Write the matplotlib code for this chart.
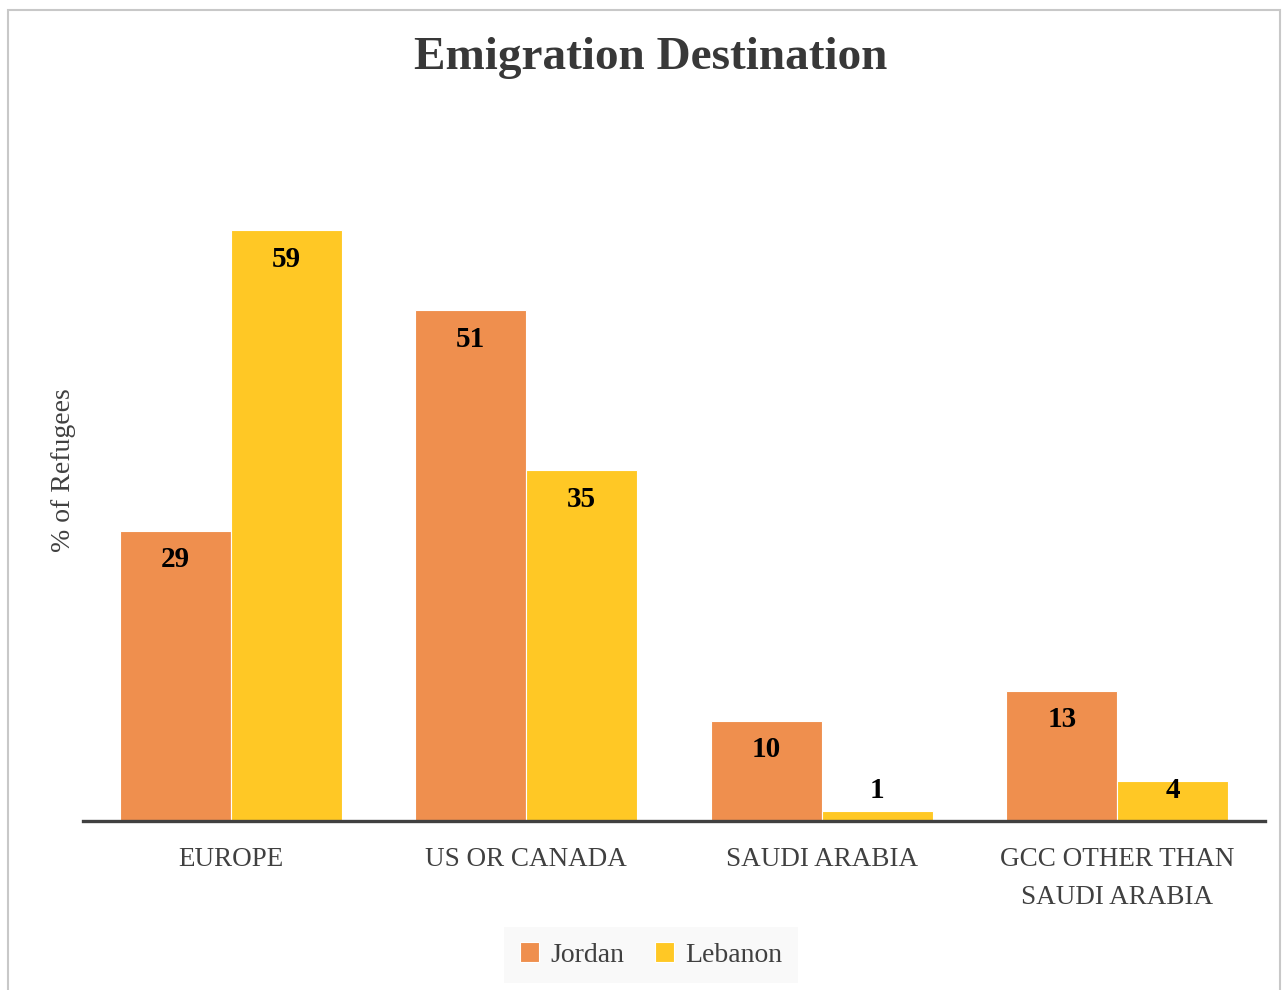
"""Emigration destination of refugees, Jordan vs Lebanon. Writes out.png."""

import matplotlib

matplotlib.use("Agg")
import matplotlib.pyplot as plt
import numpy as np
from matplotlib.patches import Rectangle

categories = ["EUROPE", "US OR CANADA", "SAUDI ARABIA", "GCC OTHER THAN\nSAUDI ARABIA"]
jordan = [29, 51, 10, 13]
lebanon = [59, 35, 1, 4]

ORANGE = "#EF8F4E"
YELLOW = "#FFC825"
GREY = "#404040"

plt.rcParams["font.family"] = ["Liberation Serif", "DejaVu Serif"]

fig = plt.figure(figsize=(12.84, 9.9), dpi=100)
fig.patches.append(Rectangle((8 / 1284, -0.01), 1272 / 1284, 1 - 10 / 990 + 0.01,
                             transform=fig.transFigure, fill=False,
                             edgecolor="#C8C8C8", linewidth=1.5))

ax = fig.add_axes([83 / 1284, 169 / 990, 1182 / 1284, 691 / 990])
x = np.arange(len(categories))
w = 0.375
b1 = ax.bar(x - w / 2, jordan, w, color=ORANGE, edgecolor="white", linewidth=0.8,
            label="Jordan")
b2 = ax.bar(x + w / 2, lebanon, w, color=YELLOW, edgecolor="white", linewidth=0.8,
            label="Lebanon")

# labels sit inside the bar top, but never lower than a small floor
for bars in (b1, b2):
    for r in bars:
        h = r.get_height()
        ax.text(r.get_x() + r.get_width() / 2, max(h - 2.9, 3.0), f"{h:g}",
                ha="center", va="center", fontsize=21, fontweight="bold",
                color="black")

ax.set_xlim(-0.5, 3.5)
ax.set_ylim(0, 69)
for s in ("top", "right", "left"):
    ax.spines[s].set_visible(False)
ax.spines["bottom"].set_color(GREY)
ax.spines["bottom"].set_linewidth(2.4)
ax.set_yticks([])
ax.set_xticks(x)
ax.set_xticklabels(categories, fontsize=19.5, color=GREY, linespacing=1.68)
ax.tick_params(axis="x", length=0, pad=19)
ax.set_ylabel("% of Refugees", fontsize=20, color=GREY)
ax.yaxis.set_label_coords(-0.006, 0.508)

fig.text(651 / 1284, 1 - 58 / 990, "Emigration Destination", ha="center", va="center",
         fontsize=34, fontweight="bold", color="#383838")

leg = fig.legend(loc="center", bbox_to_anchor=(651 / 1284, 1 - 955 / 990), ncol=2,
                 fontsize=20, frameon=True, handlelength=0.7, handleheight=0.7,
                 handletextpad=0.4, columnspacing=1.1, borderpad=0.55)
leg.get_frame().set_facecolor("#F8F8F8")
leg.get_frame().set_edgecolor("none")
leg.get_frame().set_boxstyle("square", pad=0)
for t in leg.get_texts():
    t.set_color(GREY)

fig.savefig("out.png", dpi=100)
